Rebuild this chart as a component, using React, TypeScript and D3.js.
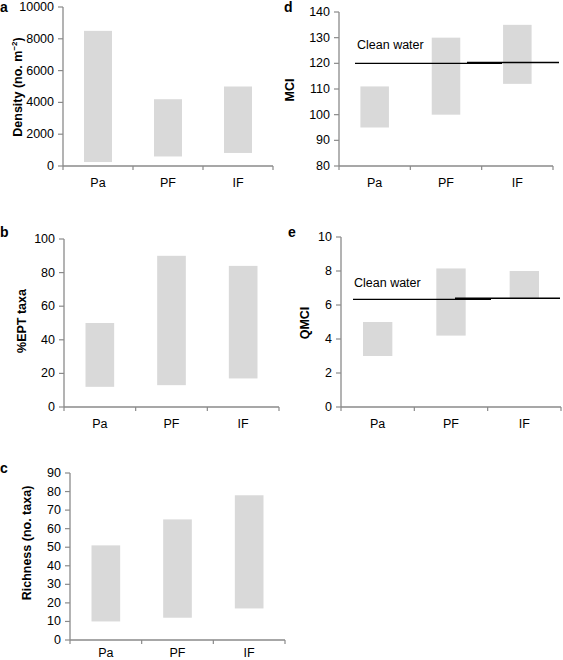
import React from "react";
import * as d3 from "d3";

const categories = ["Pa", "PF", "IF"];

const densityLow = [250, 600, 820];
const densityHigh = [8500, 4200, 5000];
const densityTicks = [0, 2000, 4000, 6000, 8000, 10000];

const eptLow = [12, 13, 17];
const eptHigh = [50, 90, 84];
const eptTicks = [0, 20, 40, 60, 80, 100];

const richLow = [10, 12, 17];
const richHigh = [51, 65, 78];
const richTicks = [0, 10, 20, 30, 40, 50, 60, 70, 80, 90];

const mciLow = [95, 100, 112];
const mciHigh = [111, 130, 135];
const mciTicks = [80, 90, 100, 110, 120, 130, 140];
const mciClean = [120, 120.35];

const qmciLow = [3, 4.2, 6.35];
const qmciHigh = [5, 8.15, 8];
const qmciTicks = [0, 2, 4, 6, 8, 10];
const qmciClean = [6.33, 6.4];

const FONT = "'Liberation Sans', Arial, Helvetica, sans-serif";
const AXIS = "#8a8a8a";
const BAR = "#d9d9d9";

type PanelProps = {
  letter: string;
  letterX: number;
  letterY: number;
  label: React.ReactNode;
  labelX: number;
  labelY: number;
  x0: number;
  x1: number;
  yTop: number;
  yBottom: number;
  catDy?: number;
  ticks: number[];
  low: number[];
  high: number[];
  clean?: { values: number[]; segs: [number, number][]; textX: number; textDy: number };
};

function Panel(p: PanelProps) {
  const y = d3
    .scaleLinear()
    .domain([p.ticks[0], p.ticks[p.ticks.length - 1]])
    .range([p.yBottom, p.yTop]);
  const x = d3
    .scaleBand<string>()
    .domain(categories)
    .range([p.x0, p.x1])
    .paddingInner(0.6)
    .paddingOuter(0.3);
  const step = (p.x1 - p.x0) / categories.length;
  const catDy = p.catDy ?? 21;
  return (
    <g fontFamily={FONT}>
      <text x={p.letterX} y={p.letterY} fontSize={14} fontWeight="bold">
        {p.letter}
      </text>
      <text
        transform={`translate(${p.labelX},${p.labelY}) rotate(-90)`}
        textAnchor="middle"
        dominantBaseline="central"
        fontSize={12.5}
        fontWeight="bold"
      >
        {p.label}
      </text>
      {categories.map((c, i) => (
        <rect
          key={c}
          x={x(c)}
          width={x.bandwidth()}
          y={y(p.high[i])}
          height={y(p.low[i]) - y(p.high[i])}
          fill={BAR}
        />
      ))}
      <line x1={p.x0} x2={p.x0} y1={p.yTop} y2={p.yBottom} stroke={AXIS} strokeWidth={1.3} />
      <line x1={p.x0} x2={p.x1} y1={p.yBottom} y2={p.yBottom} stroke={AXIS} strokeWidth={1.3} />
      {p.ticks.map((t) => (
        <g key={t}>
          <line x1={p.x0 - 5} x2={p.x0} y1={y(t)} y2={y(t)} stroke={AXIS} strokeWidth={1.2} />
          <text
            x={p.x0 - 9}
            y={y(t)}
            textAnchor="end"
            dominantBaseline="central"
            fontSize={12.5}
          >
            {t}
          </text>
        </g>
      ))}
      {d3.range(categories.length + 1).map((i) => (
        <line
          key={i}
          x1={p.x0 + i * step}
          x2={p.x0 + i * step}
          y1={p.yBottom}
          y2={p.yBottom + 4}
          stroke={AXIS}
          strokeWidth={1.2}
        />
      ))}
      {categories.map((c) => (
        <text
          key={c}
          x={(x(c) as number) + x.bandwidth() / 2}
          y={p.yBottom + catDy}
          textAnchor="middle"
          fontSize={12.5}
        >
          {c}
        </text>
      ))}
      {p.clean && (
        <g>
          {p.clean.segs.map((s, i) => (
            <line
              key={i}
              x1={s[0]}
              x2={s[1]}
              y1={y(p.clean!.values[i])}
              y2={y(p.clean!.values[i])}
              stroke="#000"
              strokeWidth={1.4}
            />
          ))}
          <text x={p.clean.textX} y={y(p.clean.values[0]) + p.clean.textDy} fontSize={12.5}>
            Clean water
          </text>
        </g>
      )}
    </g>
  );
}

export default function App() {
  return (
    <svg
      width={563}
      height={660}
      style={{ position: "absolute", left: 0, top: 0, background: "#fff" }}
    >
      <Panel
        letter="a"
        letterX={0}
        letterY={12}
        label={
          <>
            Density (no. m
            <tspan dy={-4} fontSize={8}>
              −2
            </tspan>
            <tspan dy={4}>)</tspan>
          </>
        }
        labelX={18}
        labelY={87}
        x0={63}
        x1={273}
        yTop={7}
        yBottom={166}
        ticks={densityTicks}
        low={densityLow}
        high={densityHigh}
      />
      <Panel
        letter="b"
        letterX={0}
        letterY={237}
        label="%EPT taxa"
        labelX={22}
        labelY={321}
        x0={64}
        x1={279}
        yTop={239}
        yBottom={407}
        ticks={eptTicks}
        low={eptLow}
        high={eptHigh}
      />
      <Panel
        letter="c"
        letterX={0}
        letterY={473}
        label="Richness (no. taxa)"
        labelX={27}
        labelY={543}
        x0={70}
        x1={285}
        yTop={473}
        yBottom={640}
        catDy={17}
        ticks={richTicks}
        low={richLow}
        high={richHigh}
      />
      <Panel
        letter="d"
        letterX={284}
        letterY={12}
        label="MCI"
        labelX={290}
        labelY={90}
        x0={339}
        x1={553}
        yTop={12}
        yBottom={166}
        ticks={mciTicks}
        low={mciLow}
        high={mciHigh}
        clean={{ values: mciClean, segs: [[355, 502], [467, 559]], textX: 357, textDy: -14 }}
      />
      <Panel
        letter="e"
        letterX={288}
        letterY={237}
        label="QMCI"
        labelX={305}
        labelY={323}
        x0={341}
        x1={561}
        yTop={237}
        yBottom={407}
        ticks={qmciTicks}
        low={qmciLow}
        high={qmciHigh}
        clean={{ values: qmciClean, segs: [[353, 491], [455, 560]], textX: 354, textDy: -12 }}
      />
    </svg>
  );
}
